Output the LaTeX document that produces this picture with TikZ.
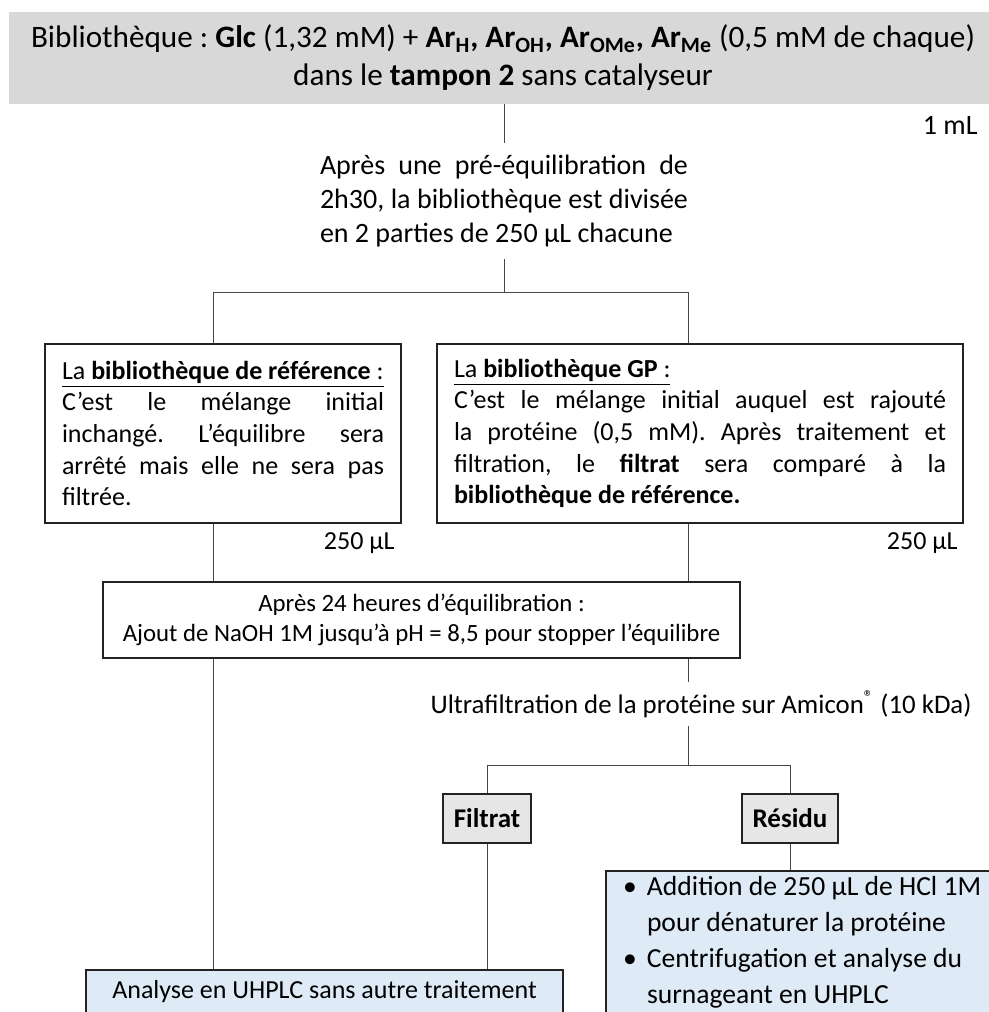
\documentclass[tikz,border=0pt]{standalone}
\usepackage{fontspec}
\setmainfont{Carlito}
\usetikzlibrary{positioning}
\usepackage{xcolor}
\definecolor{HeadGray}{RGB}{216,216,216}
\definecolor{TagGray}{RGB}{230,230,230}
\definecolor{StepBlue}{RGB}{222,235,247}
\definecolor{EdgeDark}{RGB}{35,35,35}
\definecolor{LinkGray}{RGB}{70,70,70}
\tolerance=9999
\hyphenpenalty=10000
\frenchspacing

\begin{document}
\begin{tikzpicture}[
x=0.5pt,y=-0.5pt,
txt/.style={inner sep=0pt,font=\fontsize{14}{17}\selectfont},
headbox/.style={rectangle,fill=HeadGray,minimum width=494pt,minimum height=46pt,
align=center,font=\fontsize{15.6}{19}\selectfont},
box/.style={rectangle,draw=EdgeDark,line width=1pt,fill=white,
inner xsep=8.5pt,font=\fontsize{13}{15.8}\selectfont},
tag/.style={rectangle,draw=EdgeDark,line width=1pt,fill=TagGray,
minimum height=24.5pt,inner xsep=5.5pt,font=\fontsize{13.5}{16}\selectfont\bfseries},
stepbox/.style={rectangle,draw=EdgeDark,line width=1pt,fill=StepBlue,
font=\fontsize{13}{18}\selectfont},
link/.style={draw=LinkGray,line width=0.5pt}
]
\useasboundingbox (0,0) rectangle (989,1012);
\clip (0,0) rectangle (989,1012);

% start of the library
\node[headbox] (head) at (503,58) {Bibliothèque : \textbf{Glc} (1,32 mM) + \textbf{Ar\textsubscript{H}, Ar\textsubscript{OH}, Ar\textsubscript{OMe}, Ar\textsubscript{Me}} (0,5 mM de chaque)\\
dans le \textbf{tampon 2} sans catalyseur};
\node[txt,anchor=east] (vol1) at (978,125) {1 mL};
\node[txt,text width=184pt,align=justify,inner ysep=6pt] (split) at (504,201)
{Après une pré-équilibration de\linebreak 2h30, la bibliothèque est divisée\linebreak en 2 parties de 250 µL chacune};

% the two libraries
\coordinate (fork) at (504,292);
\coordinate (forkL) at (213,292);
\coordinate (forkR) at (688,292);
\node[box,text width=161pt,align=justify,minimum height=89.5pt,anchor=north west] (ref) at (44,343)
{\underline{La \textbf{bibliothèque de référence} :}\linebreak C’est le mélange initial\linebreak inchangé. L’équilibre sera\linebreak arrêté mais elle ne sera pas\linebreak filtrée.};
\node[box,text width=246pt,align=justify,minimum height=89.5pt,anchor=north west] (gp) at (436,343)
{\underline{La \textbf{bibliothèque GP} :}\linebreak C’est le mélange initial auquel est rajouté\linebreak la protéine (0,5 mM). Après traitement et\linebreak filtration, le \textbf{filtrat} sera comparé à la\linebreak \textbf{bibliothèque de référence.}};
\node[txt,anchor=east,font=\fontsize{13}{16}\selectfont] (vol2) at (395,543) {250 µL};
\node[txt,anchor=east,font=\fontsize{13}{16}\selectfont] (vol3) at (958,543) {250 µL};

\draw[link] (head.south -| split.north) -- (split.north);
\draw[link] (split) -- (fork);
\draw[link] (forkL) -- (forkR);
\draw[link] (forkL) -- (forkL |- ref.north);
\draw[link] (forkR) -- (forkR |- gp.north);

% stop and ultrafiltration
\node[box,minimum width=318.5pt,minimum height=38pt,align=center,inner xsep=4pt,
font=\fontsize{12.4}{15}\selectfont] (stop) at (421.5,620)
{Après 24 heures d’équilibration :\\Ajout de NaOH 1M jusqu’à pH = 8,5 pour stopper l’équilibre};
\node[txt,inner ysep=4pt,font=\fontsize{13.4}{16}\selectfont] (ultra) at (701,704)
{Ultrafiltration de la protéine sur Amicon\textsuperscript{®} (10 kDa)};
\coordinate (fork2) at (688,765);
\node[tag] (filt) at (487,818) {Filtrat};
\node[tag] (res) at (790,818) {Résidu};

\draw[link] (ref.south -| forkL) -- (forkL |- stop.north);
\draw[link] (gp.south -| forkR) -- (forkR |- stop.north);
\draw[link] (stop.south -| forkR) -- (forkR |- ultra.north);
\draw[link] (ultra.south -| fork2) -- (fork2);
\draw[link] (filt.north |- fork2) -- (res.north |- fork2);
\draw[link] (filt.north |- fork2) -- (filt.north);
\draw[link] (res.north |- fork2) -- (res.north);

% analyses
\node[stepbox,anchor=north,minimum width=238.5pt,inner ysep=4pt,
text height=10pt,text depth=60pt] (ana) at (324.5,969) {Analyse en UHPLC sans autre traitement};
\node[stepbox,anchor=north west,minimum width=191pt,inner xsep=8.5pt,inner ysep=3pt,
font=\fontsize{13.8}{18}\selectfont,text height=9pt,text depth=80pt,align=left] (acid) at (605,870)
{\begin{tabular}[t]{@{}p{12pt}@{}l@{}}
\textbullet & Addition de 250 µL de HCl 1M\\
 & pour dénaturer la protéine\\
\textbullet & Centrifugation et analyse du\\
 & surnageant en UHPLC
\end{tabular}};

\draw[link] (stop.south -| forkL) -- (forkL |- ana.north);
\draw[link] (filt) -- (filt |- ana.north);
\draw[link] (res) -- (res |- acid.north);
\end{tikzpicture}
\end{document}
